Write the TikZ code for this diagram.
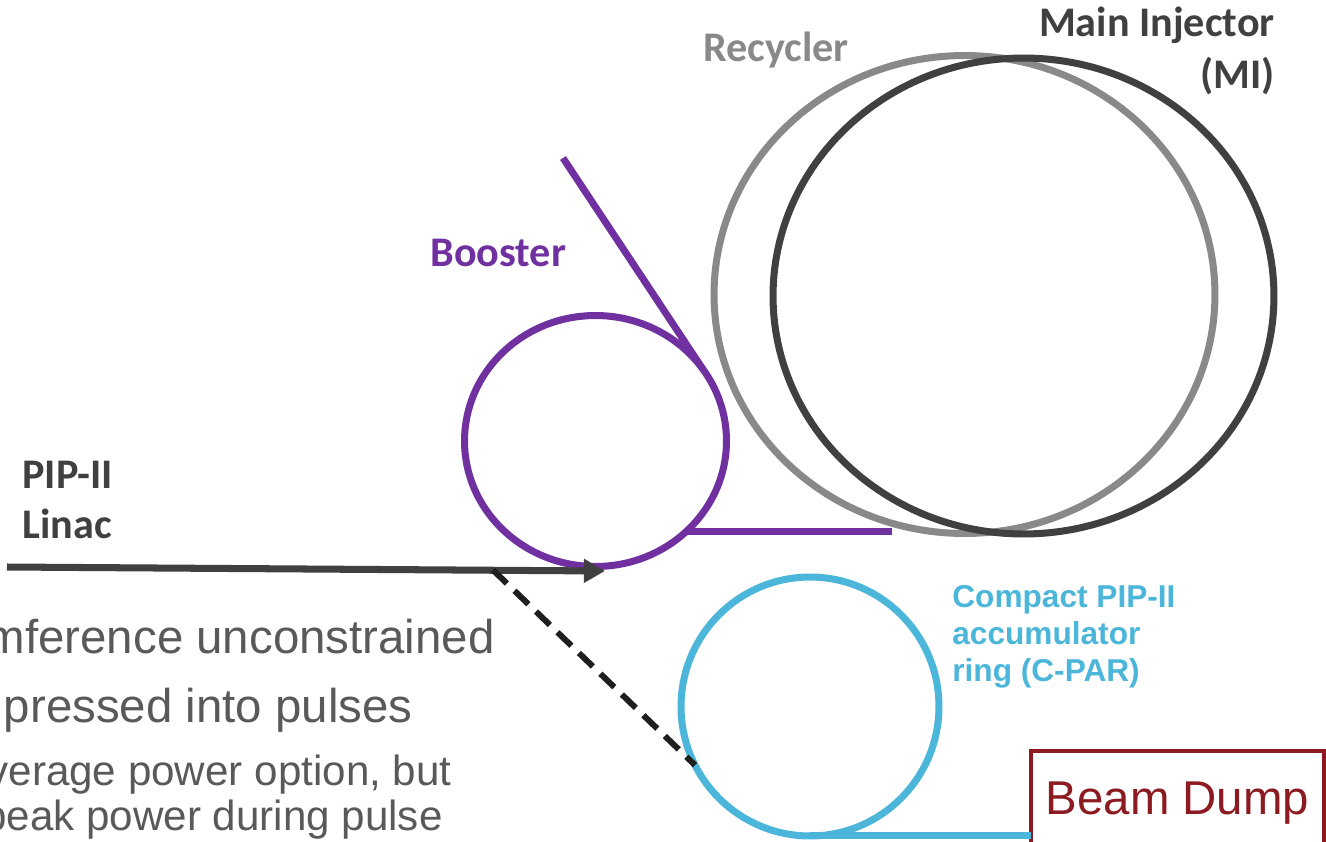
\documentclass[tikz,border=0pt]{standalone}
\usepackage{fontspec}
\setmainfont{Liberation Sans}
\newfontfamily\calibri{Carlito}
\usetikzlibrary{shapes.geometric,arrows.meta,positioning}
\definecolor{boostpurple}{RGB}{112,48,160}
\definecolor{recygray}{RGB}{137,137,137}
\definecolor{midark}{RGB}{64,64,64}
\definecolor{cparblue}{RGB}{75,182,218}
\definecolor{dumpred}{RGB}{140,27,33}
\definecolor{notegray}{RGB}{89,89,89}
\tikzset{
    ring/.style={draw,ellipse,line width=4pt,inner sep=0pt,outer sep=0pt},
    beamline/.style={line width=4pt},
    ringlabel/.style={font=\calibri\bfseries\fontsize{24}{29}\selectfont,inner sep=0pt},
    cparlabel/.style={font=\bfseries\fontsize{18}{21}\selectfont,inner sep=0pt,text=cparblue},
    notebig/.style={font=\fontsize{27}{32}\selectfont,inner sep=0pt,text=notegray,anchor=base east},
    notesmall/.style={font=\fontsize{24}{28}\selectfont,inner sep=0pt,text=notegray,anchor=base east}
}

\begin{document}
\begin{tikzpicture}[x=0.02cm,y=-0.02cm]
    \useasboundingbox (0,0) rectangle (1326,842);
    \clip (0,0) rectangle (1326,842);

    % Rings
    \node[ring,draw=recygray,minimum width=10.02cm,minimum height=9.56cm] (recycler) at (964.5,294.5) {};
    \node[ring,draw=midark,minimum width=10.02cm,minimum height=9.52cm] (mi) at (1023.5,296) {};
    \node[ring,draw=boostpurple,minimum width=5.24cm,minimum height=5.02cm] (booster) at (595.5,441) {};
    \node[ring,draw=cparblue,minimum width=5.16cm,minimum height=5.18cm] (cpar) at (810,706.5) {};

    % Beam Dump
    \node[draw=dumpred,line width=2.3pt,text=dumpred,inner sep=0pt,outer sep=0pt,
          minimum width=5.86cm,minimum height=2.08cm,font=\fontsize{27}{32}\selectfont] (dump) at (1177.5,803) {Beam Dump};

    % Transfer lines
    \coordinate (bstin) at (563,158);
    \coordinate (bstout) at (892,531);
    \draw[beamline,boostpurple] (bstin) -- (booster.34);
    \draw[beamline,boostpurple] (booster.-45) -- (booster.-45 -| bstout);
    \draw[beamline,cparblue] (cpar.south) -- (cpar.south -| dump.west);

    % Linac
    \coordinate (linac) at (7,567);
    \coordinate (inj) at (605,571);
    \coordinate (split) at (493,570);
    \draw[beamline,midark,-{Triangle[length=12pt,width=13pt]}] (linac) -- (inj);
    \draw[line width=3.4pt,black!88,dash pattern=on 11pt off 6pt] (split) -- (cpar.207);

    % Labels
    \node[ringlabel,text=midark,anchor=base east] (milabel) at (1275,36) {Main Injector};
    \node[ringlabel,text=midark,anchor=base east] (milabeltwo) at (1275,88) {(MI)};
    \node[ringlabel,text=recygray,anchor=base west] (recylabel) at (703,61) {Recycler};
    \node[ringlabel,text=boostpurple,anchor=base west] (boostlabel) at (430,266) {Booster};
    \node[ringlabel,text=midark,anchor=base west] (linaclabel) at (22,488) {PIP-II};
    \node[ringlabel,text=midark,anchor=base west] (linaclabeltwo) at (22,538) {Linac};
    \node[cparlabel,anchor=base west] (cparlabel) at (952,607) {Compact PIP-II};
    \node[cparlabel,anchor=base west] (cparlabeltwo) at (952,644) {accumulator};
    \node[cparlabel,anchor=base west] (cparlabelthree) at (952,681) {ring (C-PAR)};

    % Notes (cut at the left edge)
    \node[notebig] (noteone) at (495,653) {mference unconstrained};
    \node[notebig] (notetwo) at (413,722) {pressed into pulses};
    \node[notesmall] (notethree) at (452,785) {verage power option, but};
    \node[notesmall] (notefour) at (443,830) {peak power during pulse};
\end{tikzpicture}
\end{document}
